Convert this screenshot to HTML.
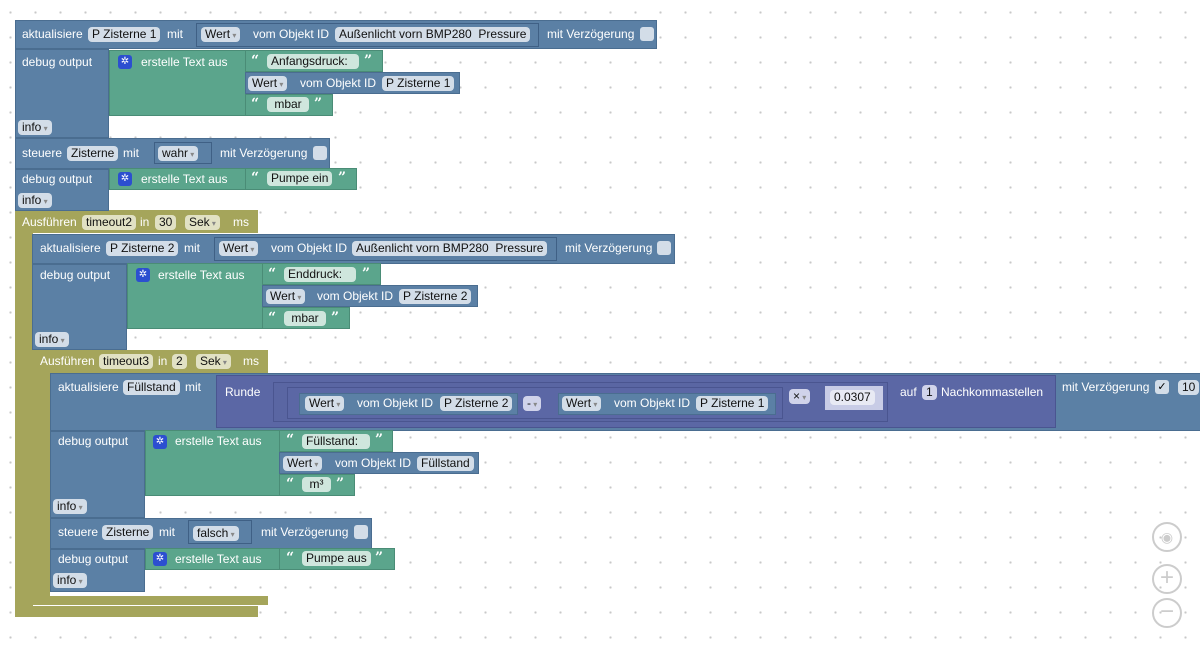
<!DOCTYPE html>
<html><head><meta charset="utf-8"><style>
body{margin:0;width:1200px;height:650px;overflow:hidden;background:#fff;
background-image:radial-gradient(circle,#c8c8c8 1px,transparent 1.3px);background-size:25px 25px;background-position:-2px 0px;
font-family:"Liberation Sans",sans-serif;font-size:12px;position:relative}
div{position:absolute;box-sizing:border-box}
.b{background:#5b80a5;border:1px solid #4a6d90}
.g{background:#5ba58c;border:1px solid #4a8c76}
.o{background:#a5a55b}
.p{background:#5b67a5;border:1px solid #4a5590}
.t{color:#fff;white-space:nowrap;line-height:15px}
.f{background:#d3dde8;color:#111;border-radius:4px;padding:0 4px;height:15px;line-height:15px;white-space:nowrap}
.fg{background:#cfe6dd}
.fo{background:#e1e1c4}
.fp{background:#d0d3ea}
.dd::after{content:" ▾";font-size:8px;color:#888}
.ic{width:14px;height:14px;background:#2c4fd0;border-radius:3px;color:#fff;font-size:10px;text-align:center;line-height:14px}
.q{color:#fff;font-weight:bold;font-size:14px;line-height:15px;font-family:"DejaVu Serif",serif}
.cb{width:14px;height:14px;background:#d3dde8;border-radius:3px}
.c{border:2px solid #ccc;border-radius:50%;width:30px;height:30px;color:#ccc;text-align:center;font-size:24px;line-height:24px}
</style></head><body>
<!-- timeout2 C -->
<div class="o" style="left:15px;top:210px;width:243px;height:23px"></div>
<div class="o" style="left:15px;top:210px;width:18px;height:407px;border-radius:0 0 0 6px"></div>
<div class="o" style="left:15px;top:606px;width:243px;height:11px"></div>
<div class="t" style="left:22px;top:215px">Ausführen</div><div class="f fo" style="left:82px;top:215px">timeout2</div>
<div class="t" style="left:140px;top:215px">in</div><div class="f fo" style="left:155px;top:215px">30</div>
<div class="f fo dd" style="left:185px;top:215px">Sek</div><div class="t" style="left:233px;top:215px">ms</div>
<!-- timeout3 C -->
<div class="o" style="left:32px;top:350px;width:236px;height:23px"></div>
<div class="o" style="left:32px;top:350px;width:18px;height:254px"></div>
<div class="o" style="left:32px;top:596px;width:236px;height:9px"></div>
<div class="t" style="left:40px;top:354px">Ausführen</div><div class="f fo" style="left:99px;top:354px">timeout3</div>
<div class="t" style="left:158px;top:354px">in</div><div class="f fo" style="left:172px;top:354px">2</div>
<div class="f fo dd" style="left:196px;top:354px">Sek</div><div class="t" style="left:243px;top:354px">ms</div>

<!-- block 1 -->
<div class="b" style="left:15px;top:20px;width:642px;height:29px"></div>
<div class="t" style="left:22px;top:27px">aktualisiere</div><div class="f" style="left:88px;top:27px">P Zisterne 1</div>
<div class="t" style="left:167px;top:27px">mit</div>
<div class="b" style="left:196px;top:23px;width:343px;height:24px;border-color:#3f6085"></div>
<div class="f dd" style="left:201px;top:27px">Wert</div><div class="t" style="left:253px;top:27px">vom Objekt ID</div>
<div class="f" style="left:335px;top:27px">Außenlicht vorn BMP280 &nbsp;Pressure</div>
<div class="t" style="left:547px;top:27px">mit Verzögerung</div><div class="cb" style="left:640px;top:27px"></div>

<div class="b" style="left:15px;top:49px;width:94px;height:89px"></div>
<div class="t" style="left:22px;top:55px">debug output</div><div class="f dd" style="left:18px;top:120px">info</div>
<div class="g" style="left:109px;top:50px;width:137px;height:66px"></div>
<div class="ic" style="left:118px;top:55px">✲</div><div class="t" style="left:141px;top:55px">erstelle Text aus</div>
<div class="g" style="left:245px;top:50px;width:138px;height:22px"></div><div class="q" style="left:251px;top:54px">“</div><div class="f fg" style="left:267px;top:54px;width:92px">Anfangsdruck:</div><div class="q" style="left:364px;top:54px">”</div>
<div class="b" style="left:245px;top:72px;width:215px;height:22px"></div><div class="f dd" style="left:248px;top:76px">Wert</div><div class="t" style="left:300px;top:76px">vom Objekt ID</div><div class="f" style="left:382px;top:76px">P Zisterne 1</div>
<div class="g" style="left:245px;top:94px;width:88px;height:22px"></div><div class="q" style="left:251px;top:97px">“</div><div class="f fg" style="left:267px;top:97px;width:42px;text-align:center">mbar</div><div class="q" style="left:314px;top:97px">”</div>

<div class="b" style="left:15px;top:138px;width:315px;height:31px"></div>
<div class="t" style="left:22px;top:146px">steuere</div><div class="f" style="left:67px;top:146px">Zisterne</div><div class="t" style="left:123px;top:146px">mit</div>
<div class="b" style="left:154px;top:142px;width:58px;height:22px;border-color:#3f6085"></div><div class="f dd" style="left:158px;top:146px">wahr</div>
<div class="t" style="left:220px;top:146px">mit Verzögerung</div><div class="cb" style="left:313px;top:146px"></div>
<div class="b" style="left:15px;top:169px;width:94px;height:42px"></div>
<div class="t" style="left:22px;top:172px">debug output</div><div class="f dd" style="left:18px;top:193px">info</div>
<div class="g" style="left:109px;top:168px;width:137px;height:22px"></div><div class="ic" style="left:118px;top:172px">✲</div><div class="t" style="left:141px;top:172px">erstelle Text aus</div>
<div class="g" style="left:245px;top:168px;width:112px;height:22px"></div><div class="q" style="left:251px;top:171px">“</div><div class="f fg" style="left:267px;top:171px">Pumpe ein</div><div class="q" style="left:338px;top:171px">”</div>

<!-- block in timeout2 -->
<div class="b" style="left:32px;top:234px;width:643px;height:30px"></div>
<div class="t" style="left:40px;top:241px">aktualisiere</div><div class="f" style="left:106px;top:241px">P Zisterne 2</div><div class="t" style="left:184px;top:241px">mit</div>
<div class="b" style="left:214px;top:237px;width:343px;height:24px;border-color:#3f6085"></div>
<div class="f dd" style="left:219px;top:241px">Wert</div><div class="t" style="left:271px;top:241px">vom Objekt ID</div>
<div class="f" style="left:352px;top:241px">Außenlicht vorn BMP280 &nbsp;Pressure</div>
<div class="t" style="left:565px;top:241px">mit Verzögerung</div><div class="cb" style="left:657px;top:241px"></div>
<div class="b" style="left:32px;top:264px;width:95px;height:86px"></div>
<div class="t" style="left:40px;top:268px">debug output</div><div class="f dd" style="left:35px;top:332px">info</div>
<div class="g" style="left:127px;top:263px;width:136px;height:66px"></div><div class="ic" style="left:136px;top:268px">✲</div><div class="t" style="left:158px;top:268px">erstelle Text aus</div>
<div class="g" style="left:262px;top:263px;width:119px;height:22px"></div><div class="q" style="left:268px;top:267px">“</div><div class="f fg" style="left:284px;top:267px;width:72px">Enddruck:</div><div class="q" style="left:362px;top:267px">”</div>
<div class="b" style="left:262px;top:285px;width:216px;height:22px"></div><div class="f dd" style="left:266px;top:289px">Wert</div><div class="t" style="left:317px;top:289px">vom Objekt ID</div><div class="f" style="left:399px;top:289px">P Zisterne 2</div>
<div class="g" style="left:262px;top:307px;width:88px;height:22px"></div><div class="q" style="left:268px;top:311px">“</div><div class="f fg" style="left:284px;top:311px;width:42px;text-align:center">mbar</div><div class="q" style="left:331px;top:311px">”</div>

<!-- Füllstand block -->
<div class="b" style="left:50px;top:373px;width:1160px;height:58px"></div>
<div class="t" style="left:58px;top:380px">aktualisiere</div><div class="f" style="left:123px;top:380px">Füllstand</div><div class="t" style="left:185px;top:380px">mit</div>
<div class="p" style="left:216px;top:375px;width:840px;height:53px"></div>
<div class="t" style="left:225px;top:385px">Runde</div>
<div class="p" style="left:273px;top:382px;width:615px;height:40px;background:#5a66a3"></div>
<div class="p" style="left:287px;top:387px;width:496px;height:32px"></div>
<div class="b" style="left:299px;top:393px;width:219px;height:22px"></div><div class="f dd" style="left:305px;top:396px">Wert</div><div class="t" style="left:357px;top:396px">vom Objekt ID</div><div class="f" style="left:440px;top:396px">P Zisterne 2</div>
<div class="f fp dd" style="left:523px;top:396px">-</div>
<div class="b" style="left:558px;top:393px;width:218px;height:22px"></div><div class="f dd" style="left:562px;top:396px">Wert</div><div class="t" style="left:614px;top:396px">vom Objekt ID</div><div class="f" style="left:696px;top:396px">P Zisterne 1</div>
<div class="f fp dd" style="left:789px;top:389px">×</div>
<div class="p" style="left:825px;top:386px;width:58px;height:24px;background:#c8cce6;border:none"></div><div class="f" style="left:830px;top:390px;background:#e8eaf4">0.0307</div>
<div class="t" style="left:900px;top:385px">auf</div><div class="f fp" style="left:922px;top:385px">1</div><div class="t" style="left:941px;top:385px">Nachkommastellen</div>
<div class="t" style="left:1062px;top:380px">mit Verzögerung</div><div class="cb" style="left:1155px;top:380px;font-size:11px;line-height:14px;text-align:center">✓</div><div class="f" style="left:1178px;top:380px">10</div>

<div class="b" style="left:50px;top:431px;width:95px;height:87px"></div>
<div class="t" style="left:58px;top:434px">debug output</div><div class="f dd" style="left:53px;top:499px">info</div>
<div class="g" style="left:145px;top:430px;width:135px;height:66px"></div><div class="ic" style="left:153px;top:435px">✲</div><div class="t" style="left:175px;top:434px">erstelle Text aus</div>
<div class="g" style="left:279px;top:430px;width:114px;height:22px"></div><div class="q" style="left:286px;top:433px">“</div><div class="f fg" style="left:302px;top:434px;width:68px">Füllstand:</div><div class="q" style="left:375px;top:433px">”</div>
<div class="b" style="left:279px;top:452px;width:200px;height:22px"></div><div class="f dd" style="left:283px;top:456px">Wert</div><div class="t" style="left:335px;top:456px">vom Objekt ID</div><div class="f" style="left:417px;top:456px">Füllstand</div>
<div class="g" style="left:279px;top:474px;width:76px;height:22px"></div><div class="q" style="left:286px;top:477px">“</div><div class="f fg" style="left:302px;top:477px;width:29px;text-align:center">m³</div><div class="q" style="left:336px;top:477px">”</div>

<div class="b" style="left:50px;top:518px;width:322px;height:31px"></div>
<div class="t" style="left:58px;top:525px">steuere</div><div class="f" style="left:102px;top:525px">Zisterne</div><div class="t" style="left:159px;top:525px">mit</div>
<div class="b" style="left:188px;top:520px;width:64px;height:24px;border-color:#3f6085"></div><div class="f dd" style="left:193px;top:526px">falsch</div>
<div class="t" style="left:261px;top:525px">mit Verzögerung</div><div class="cb" style="left:354px;top:525px"></div>
<div class="b" style="left:50px;top:549px;width:95px;height:43px"></div>
<div class="t" style="left:58px;top:552px">debug output</div><div class="f dd" style="left:53px;top:573px">info</div>
<div class="g" style="left:145px;top:548px;width:135px;height:22px"></div><div class="ic" style="left:153px;top:552px">✲</div><div class="t" style="left:175px;top:552px">erstelle Text aus</div>
<div class="g" style="left:279px;top:548px;width:116px;height:22px"></div><div class="q" style="left:286px;top:551px">“</div><div class="f fg" style="left:302px;top:551px">Pumpe aus</div><div class="q" style="left:375px;top:551px">”</div>

<!-- controls -->
<div class="c" style="left:1152px;top:522px;font-size:14px;line-height:26px">◉</div>
<div class="c" style="left:1152px;top:564px">+</div>
<div class="c" style="left:1152px;top:598px">−</div>
</body></html>
